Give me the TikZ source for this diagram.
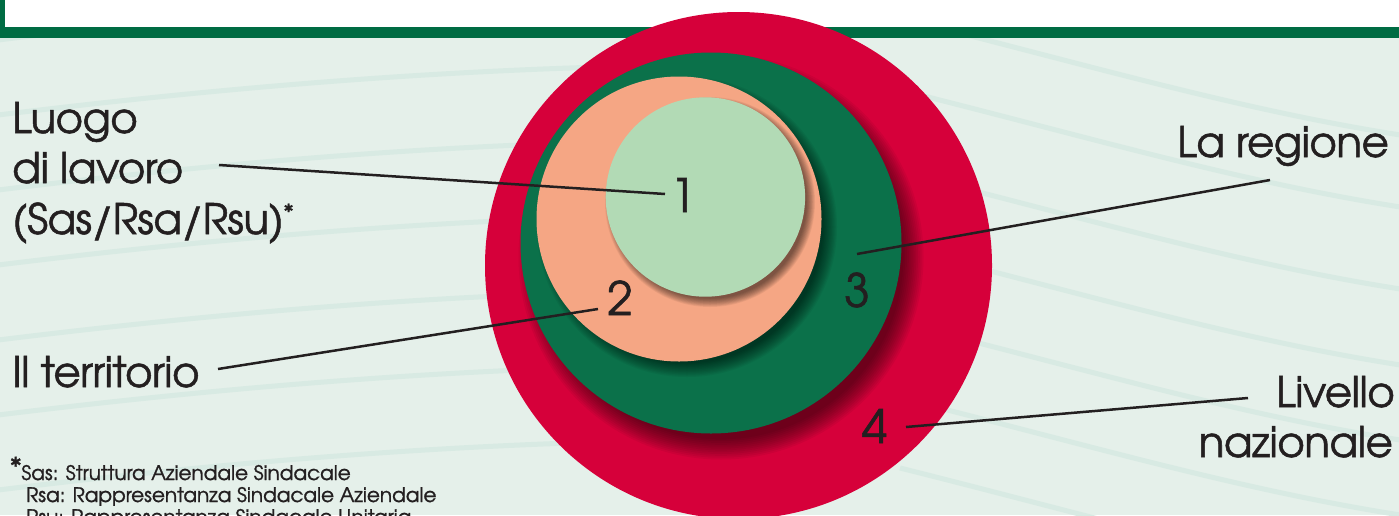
\documentclass[tikz,border=0pt]{standalone}
\usepackage{fontspec}
\setmainfont{texgyreadventor-regular.otf}
\newfontfamily\labfont{texgyreadventor-regular.otf}[FakeBold=1.2,LetterSpace=-1.2]
\newfontfamily\notefont{texgyreadventor-regular.otf}[FakeBold=1.2]
\definecolor{bgc}{HTML}{E5F0EA}
\definecolor{bandc}{HTML}{D8EAE3}
\definecolor{topgreen}{HTML}{006C43}
\definecolor{redc}{HTML}{D6003A}
\definecolor{dgreen}{HTML}{0B714A}
\definecolor{salmon}{HTML}{F5A684}
\definecolor{lgreen}{HTML}{B2DAB5}
\definecolor{ink}{HTML}{231F20}
\begin{document}
\begin{tikzpicture}[x=1pt,y=-1pt,
  band/.style={draw=bandc,line width=5pt},
  bigtext/.style={font=\labfont\fontsize{42}{50}\selectfont,text=ink,inner sep=0pt},
  numtext/.style={font=\notefont\fontsize{46}{50}\selectfont,text=ink,inner sep=0pt,anchor=base},
  notetext/.style={font=\notefont\fontsize{20}{22}\selectfont,text=ink,inner sep=0pt,anchor=base west},
  leader/.style={draw=ink,line width=2.5pt},
  shade/.style={black,opacity=0.05}]
\useasboundingbox (0,0) rectangle (1399,515);
\clip (0,0) rectangle (1399,515);
% background
\fill[bgc] (0,0) rectangle (1399,515);
\foreach \b in {-5,70,145,220,295,370,445}
  \draw[band] (-10,\b+46) .. controls (200,\b+20) and (400,\b+3) .. (600,\b-3);
\foreach \c in {43,115,197,273,348,423,493}
  \draw[band] (900,\c-25) .. controls (1100,\c+25) and (1250,\c+70) .. (1420,\c+95);
% top band
\fill[white] (0,0) rectangle (1399,27);
\fill[topgreen] (0,27) rectangle (1399,38);
\fill[topgreen] (0,0) rectangle (5,27);
% circle 4
\fill[redc] (738.5,265.5) circle[radius=253.5];
\begin{scope}
  \clip (738.5,265.5) circle[radius=253.5];
  \foreach \k in {1,...,12}
    \fill[shade] (721,257) circle[radius=180.5+\k*22/12];
\end{scope}
% circle 3
\fill[dgreen] (711,243) circle[radius=190.5];
\begin{scope}
  \clip (711,243) circle[radius=190.5];
  \foreach \k in {1,...,12}
    \fill[shade] (687,227) circle[radius=135+\k*15/12];
\end{scope}
% circle 2
\fill[salmon] (679,219) circle[radius=142.5];
\begin{scope}
  \clip (679,219) circle[radius=142.5];
  \foreach \k in {1,...,12}
    \fill[shade] (710,202) circle[radius=96+\k*9/12];
\end{scope}
% circle 1
\fill[lgreen] (705.4,197) circle[radius=99.7];
% numbers
\node[numtext] (n1) at (683,212) {1};
\node[numtext] (n2) at (620,315) {2};
\node[numtext] (n3) at (857,307) {3};
\node[numtext] (n4) at (874.5,443) {4};
% labels
\node[bigtext,anchor=base west] (t1a) at (12,133) {Luogo};
\node[bigtext,anchor=base west] (t1b) at (12,183) {di lavoro};
\node[bigtext,anchor=base west] (t1c) at (12,234) {(Sas/Rsa/Rsu)\raisebox{14pt}{\fontsize{22}{22}\selectfont*}};
\node[bigtext,anchor=base west] (t2) at (12,387) {Il territorio};
\node[bigtext,anchor=base east] (t3) at (1389,157) {La regione};
\node[bigtext,anchor=base east] (t4a) at (1395,407) {Livello};
\node[bigtext,anchor=base east] (t4b) at (1393,457) {nazionale};
% leaders
\coordinate (l1s) at (219,165); \coordinate (l1e) at (665,194);
\coordinate (l2s) at (218,369); \coordinate (l2e) at (598,309);
\coordinate (l3s) at (857,254); \coordinate (l3e) at (1270,180);
\coordinate (l4s) at (906,427); \coordinate (l4e) at (1248,398);
\draw[leader] (l1s) -- (l1e);
\draw[leader] (l2s) -- (l2e);
\draw[leader] (l3s) -- (l3e);
\draw[leader] (l4s) -- (l4e);
% footnote
\node[notetext] (fa) at (10,480) {\raisebox{4pt}{\fontsize{26}{26}\selectfont\bfseries*}Sas: Struttura Aziendale Sindacale};
\node[notetext] (fb) at (26,502) {Rsa: Rappresentanza Sindacale Aziendale};
\node[notetext] (fc) at (26,524) {Rsu: Rappresentanza Sindacale Unitaria};
\end{tikzpicture}
\end{document}
